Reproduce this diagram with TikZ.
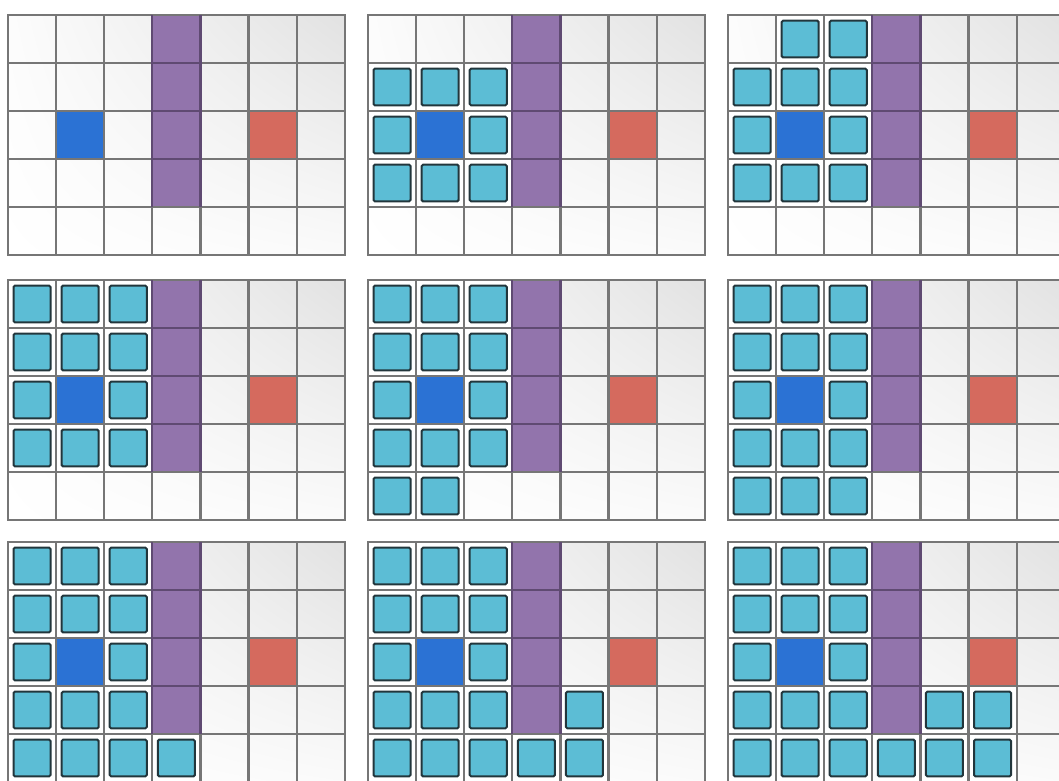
\documentclass[tikz,border=0pt]{standalone}
\usetikzlibrary{shadings}
\definecolor{purp}{HTML}{9274AC}
\definecolor{purpline}{HTML}{5F4A72}
\definecolor{bluec}{HTML}{2B72D4}
\definecolor{redc}{HTML}{D56A5E}
\definecolor{cyanf}{HTML}{5CBDD5}
\definecolor{cyanb}{HTML}{22363C}
\definecolor{bgtr}{HTML}{E2E2E2}
\definecolor{gline}{HTML}{767676}
\tikzset{
  gridline/.style={draw=gline, line width=2.2pt, line cap=rect},
  pline/.style={draw=purpline, line width=2.2pt},
  halo/.style={draw=white, line width=4.5pt, rounded corners=1.5pt},
  agent/.style={draw=cyanb, fill=cyanf, line width=2pt, rounded corners=1.5pt},
}
\newcommand\gridpanel[3]{%
  \begin{scope}[shift={(#1pt,-#2pt)}, x=48.1pt, y=-48pt]
    \shade[upper right=bgtr, upper left=white!90!bgtr, lower left=white, lower right=white!85!bgtr] (0,0) rectangle (7,5);
    \fill[purp] (3,0) rectangle (4,4);
    \fill[bluec] (1,2) rectangle (2,3);
    \fill[redc] (5,2) rectangle (6,3);
    \if\relax\detokenize{#3}\relax\else
    \foreach \c/\r in {#3} { \fill[white] (\c,\r) rectangle ++(1,1); }
    \fi
    \foreach \i in {0,...,7} { \draw[gridline] (\i,0) -- (\i,5); }
    \foreach \j in {0,...,5} { \draw[gridline] (0,\j) -- (7,\j); }
    \draw[pline] (3,0) -- (3,4) (4,0) -- (4,4);
    \foreach \j in {1,2,3} { \draw[pline] (3,\j) -- (4,\j); }
    \if\relax\detokenize{#3}\relax\else
    \foreach \c/\r in {#3} {
      \draw[halo] (\c+0.115,\r+0.115) rectangle (\c+0.885,\r+0.885);
      \draw[agent] (\c+0.115,\r+0.115) rectangle (\c+0.885,\r+0.885);
    }
    \fi
  \end{scope}%
}
\begin{document}
\begin{tikzpicture}[x=1pt,y=-1pt]
\useasboundingbox (0,0) rectangle (1059,780);
\clip (0,0) rectangle (1059,780);
\fill[white] (0,0) rectangle (1059,780);
\gridpanel{8}{15}{}
\gridpanel{368}{15}{0/1,1/1,2/1,0/2,2/2,0/3,1/3,2/3}
\gridpanel{728}{15}{1/0,2/0,0/1,1/1,2/1,0/2,2/2,0/3,1/3,2/3}
\gridpanel{8}{280}{0/0,1/0,2/0,0/1,1/1,2/1,0/2,2/2,0/3,1/3,2/3}
\gridpanel{368}{280}{0/0,1/0,2/0,0/1,1/1,2/1,0/2,2/2,0/3,1/3,2/3,0/4,1/4}
\gridpanel{728}{280}{0/0,1/0,2/0,0/1,1/1,2/1,0/2,2/2,0/3,1/3,2/3,0/4,1/4,2/4}
\gridpanel{8}{542}{0/0,1/0,2/0,0/1,1/1,2/1,0/2,2/2,0/3,1/3,2/3,0/4,1/4,2/4,3/4}
\gridpanel{368}{542}{0/0,1/0,2/0,0/1,1/1,2/1,0/2,2/2,0/3,1/3,2/3,0/4,1/4,2/4,3/4,4/4,4/3}
\gridpanel{728}{542}{0/0,1/0,2/0,0/1,1/1,2/1,0/2,2/2,0/3,1/3,2/3,0/4,1/4,2/4,3/4,4/4,5/4,4/3,5/3}
\end{tikzpicture}
\end{document}
